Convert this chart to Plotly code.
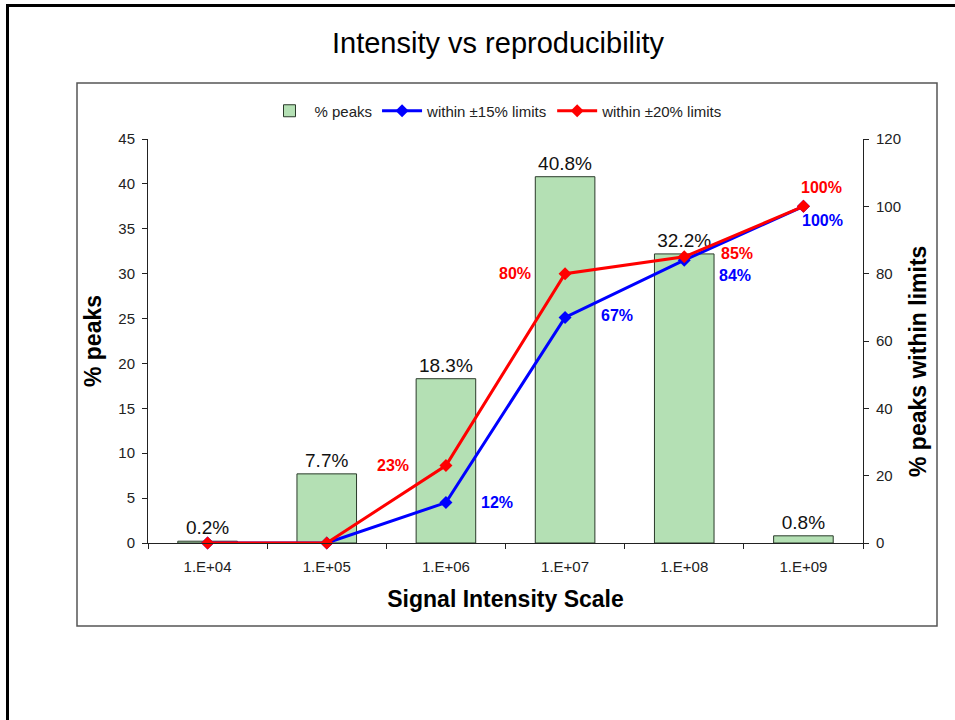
import plotly.graph_objects as go

# Signal intensity bins
categories = ["1.E+04", "1.E+05", "1.E+06", "1.E+07", "1.E+08", "1.E+09"]
# Share of peaks falling in each intensity bin (left axis)
pct_peaks = [0.2, 7.7, 18.3, 40.8, 32.2, 0.8]
# Share of peaks reproducible within the given limits (right axis)
within_15 = [0, 0, 12, 67, 84, 100]
within_20 = [0, 0, 23, 80, 85, 100]

# label offsets (px) for the line-point value labels
label_shift_15 = [None, None, (51, 0), (52, 2), (51, -15), (19, -14)]
label_shift_20 = [None, None, (-53, 0), (-50, 0), (53, 3), (18, 19)]

xpos = list(range(len(categories)))

W, H = 955, 720
L, R, T, B = 148, 863, 139, 543  # plot area in pixels


def px(x):
    return (x - L) / (R - L)


def py(y):
    return (B - y) / (B - T)


FONT = "Liberation Sans, Arial, sans-serif"

fig = go.Figure()

fig.add_trace(go.Bar(
    x=xpos, y=pct_peaks, name="% peaks",
    marker=dict(color="#b4e0b4", line=dict(color="#2a3a2a", width=1)),
    texttemplate="%{y}%", textposition="outside",
    textfont=dict(size=19, color="#111", family=FONT),
    cliponaxis=False, yaxis="y",
))

fig.add_trace(go.Scatter(
    x=xpos, y=within_15, name="within ±15% limits",
    mode="lines+markers", yaxis="y2",
    line=dict(color="#0000ff", width=3),
    marker=dict(symbol="diamond", size=10, color="#0000ff"),
    cliponaxis=False,
))

fig.add_trace(go.Scatter(
    x=xpos, y=within_20, name="within ±20% limits",
    mode="lines+markers", yaxis="y2",
    line=dict(color="#ff0000", width=3),
    marker=dict(symbol="diamond", size=10, color="#ff0000"),
    cliponaxis=False,
))

annotations = []
for vals, shifts, color in ((within_15, label_shift_15, "#0000ff"),
                            (within_20, label_shift_20, "#ff0000")):
    for xi, v, s in zip(xpos, vals, shifts):
        if s is None:
            continue
        annotations.append(dict(
            x=xi, y=v, xref="x", yref="y2", text=f"{v}%",
            showarrow=False, xshift=s[0], yshift=s[1],
            font=dict(size=16, color=color, family=FONT, weight="bold"),
        ))

annotations.append(dict(
    x=px(498), y=py(43), xref="paper", yref="paper",
    text="Intensity vs reproducibility", showarrow=False,
    xanchor="center", yanchor="middle",
    font=dict(size=29, color="#000", family=FONT),
))

axis_font = dict(size=15, color="#222", family=FONT)
title_font = dict(size=23, color="#000", family=FONT, weight="bold")

# right-hand axis title
annotations.append(dict(
    x=px(918), y=py(362), xref="paper", yref="paper",
    text="% peaks within limits", showarrow=False, textangle=-90,
    xanchor="center", yanchor="middle", font=title_font,
))

shapes = [
    # chart box
    dict(type="rect", xref="paper", yref="paper",
         x0=px(77), x1=px(937), y0=py(626), y1=py(83),
         line=dict(color="#555", width=1.5), layer="below"),
    # outer frame
    dict(type="rect", xref="paper", yref="paper",
         x0=px(7.5), x1=px(975), y0=py(740), y1=py(5.5),
         line=dict(color="#000", width=3), layer="below"),
]

fig.update_layout(
    width=W, height=H,
    margin=dict(l=L, r=W - R, t=T, b=H - B),
    paper_bgcolor="white", plot_bgcolor="white",
    font=dict(family=FONT, color="#222"),
    bargap=0.5,
    showlegend=True,
    legend=dict(orientation="h", x=px(496), y=py(111),
                xanchor="center", yanchor="middle",
                font=dict(size=15, color="#222", family=FONT),
                itemwidth=40,
                bgcolor="rgba(0,0,0,0)"),
    xaxis=dict(
        range=[-0.5, len(categories) - 0.5],
        tickmode="array", tickvals=xpos, ticktext=categories,
        showgrid=False, zeroline=False,
        showline=True, linecolor="#222", linewidth=1,
        ticks="", tickfont=axis_font, ticklabelstandoff=10,
        minor=dict(tick0=0.5, dtick=1, ticks="outside", ticklen=5,
                   tickcolor="#222", showgrid=False),
        title=dict(text="Signal Intensity Scale", font=title_font, standoff=16),
    ),
    yaxis=dict(
        range=[0, 45], dtick=5, showgrid=False, zeroline=False,
        showline=True, linecolor="#222", linewidth=1,
        ticks="outside", ticklen=5, tickcolor="#222",
        tickfont=axis_font, ticklabelstandoff=4,
        title=dict(text="% peaks", font=title_font, standoff=10),
    ),
    yaxis2=dict(
        range=[0, 120], dtick=20, overlaying="y", side="right",
        showgrid=False, zeroline=False,
        showline=True, linecolor="#222", linewidth=1,
        ticks="outside", ticklen=5, tickcolor="#222",
        tickfont=axis_font, ticklabelstandoff=4,
    ),
    # inner halves of the crossing tick marks
    yaxis3=dict(
        range=[0, 45], dtick=5, overlaying="y", side="left", anchor="x",
        showgrid=False, zeroline=False, showline=False,
        ticks="inside", ticklen=5, tickcolor="#222", showticklabels=False,
    ),
    yaxis4=dict(
        range=[0, 120], dtick=20, overlaying="y", side="right", anchor="x",
        showgrid=False, zeroline=False, showline=False,
        ticks="inside", ticklen=5, tickcolor="#222", showticklabels=False,
    ),
    annotations=annotations,
    shapes=shapes,
)

fig.write_html("out.html")
